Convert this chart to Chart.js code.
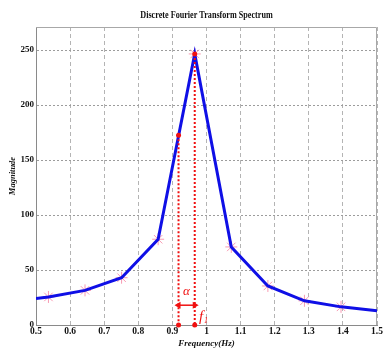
<!DOCTYPE html>
<html>
<head>
<meta charset="utf-8">
<script src="https://cdn.jsdelivr.net/npm/chart.js@4/dist/chart.umd.min.js"></script>
<style>
  html, body { margin: 0; padding: 0; background: #fff; }
  #wrap { width: 384px; height: 350px; }
</style>
</head>
<body>
<div id="wrap"><canvas id="dft"></canvas></div>
<script>
"use strict";

// DFT bins (frequency in Hz, magnitude)
var binFreq = [0.5365, 0.6437, 0.7510, 0.8582, 0.9655, 1.0727, 1.1800, 1.2872, 1.3945];
var binMag = [25.5, 31.5, 43, 78, 246.5, 71, 35.5, 22, 16.5];
// curve ends at the plot edges
var edgeFreq = [0.5, 1.5];
var edgeMag = [24, 13];

// estimated frequency marker and the peak bin
var estFreq = 0.918;
var estMag = 172.5;
var peakFreq = 0.9655;
var peakMag = 246.5;
var arrowMag = 18;

// tick labels
var xTicks = [0.5, 0.6, 0.7, 0.8, 0.9, 1, 1.1, 1.2, 1.3, 1.4, 1.5];
var yTicks = [0, 50, 100, 150, 200, 250];

// text annotations: [label, freq, magnitude]
var notes = [["α", 0.941, 30], ["f", 0.984, 7]];
var titleText = "Discrete Fourier Transform Spectrum";

var serif = "'Liberation Serif', 'Times New Roman', serif";
var red = "#f01010";

function xy(xs, ys) {
    var pts = [];
    for (var i = 0; i < xs.length; i++) {
        pts.push({ x: xs[i], y: ys[i] });
    }
    return pts;
}

var curve = xy([edgeFreq[0]].concat(binFreq, [edgeFreq[1]]), [edgeMag[0]].concat(binMag, [edgeMag[1]]));

// plot box on top/right
var frame = {
    id: "frame",
    beforeDatasetsDraw: function (chart) {
        var a = chart.chartArea, ctx = chart.ctx;
        ctx.save();
        ctx.strokeStyle = "#a8a8a8";
        ctx.lineWidth = 1;
        ctx.beginPath();
        ctx.moveTo(a.left, a.top + 0.5);
        ctx.lineTo(a.right - 0.5, a.top + 0.5);
        ctx.lineTo(a.right - 0.5, a.bottom);
        ctx.stroke();
        ctx.restore();
    }
};

// condensed bold title, alpha and f1 labels
var labels = {
    id: "labels",
    afterDatasetsDraw: function (chart) {
        var ctx = chart.ctx, sx = chart.scales.x, sy = chart.scales.y, a = chart.chartArea;
        ctx.save();
        ctx.fillStyle = "#111";
        ctx.textBaseline = "middle";
        ctx.textAlign = "center";
        ctx.font = "bold 11px " + serif;
        ctx.save();
        ctx.translate((a.left + a.right) / 2, 15);
        ctx.scale(0.74, 1);
        ctx.fillText(titleText, 0, 0);
        ctx.restore();

        ctx.fillStyle = red;
        ctx.font = "italic 13px " + serif;
        ctx.fillText(notes[0][0], sx.getPixelForValue(notes[0][1]), sy.getPixelForValue(notes[0][2]));
        var fx = sx.getPixelForValue(notes[1][1]), fy = sy.getPixelForValue(notes[1][2]);
        ctx.font = "italic 15px " + serif;
        ctx.fillText(notes[1][0], fx, fy);
        ctx.font = "italic 8px " + serif;
        ctx.fillText("1", fx + 5, fy + 4);
        ctx.restore();
    }
};

var ctx = document.getElementById("dft").getContext("2d");
var chart = new Chart(ctx, {
    type: "scatter",
    data: {
        datasets: [
            {
                // dotted drop line from estimate
                data: xy([estFreq, estFreq], [estMag, 0]),
                showLine: true,
                borderColor: red,
                borderWidth: 2,
                borderDash: [2, 2],
                pointRadius: 0,
                order: 1
            },
            {
                // dotted drop line from peak
                data: xy([peakFreq, peakFreq], [peakMag, 0]),
                showLine: true,
                borderColor: red,
                borderWidth: 2,
                borderDash: [2, 2],
                pointRadius: 0,
                order: 1
            },
            {
                // red dots
                data: xy([estFreq, estFreq, peakFreq, peakFreq], [estMag, 0, 0, peakMag]),
                pointStyle: "circle",
                pointRadius: 2.5,
                backgroundColor: red,
                borderColor: red,
                borderWidth: 0,
                clip: false,
                order: 0
            },
            {
                // double arrow between the two lines
                data: xy([estFreq, peakFreq], [arrowMag, arrowMag]),
                showLine: true,
                borderColor: red,
                borderWidth: 1.5,
                pointStyle: "triangle",
                pointRotation: [-90, 90],
                pointRadius: 2.5,
                backgroundColor: red,
                pointBorderColor: red,
                order: 0
            },
            {
                // bin markers
                data: xy(binFreq, binMag),
                pointStyle: "star",
                pointRadius: 6,
                borderWidth: 1,
                borderColor: "#f89ab2",
                backgroundColor: "#f89ab2",
                order: 3
            },
            {
                // spectrum curve
                data: curve,
                showLine: true,
                borderColor: "#0f0fe6",
                borderWidth: 3,
                pointRadius: 0,
                order: 2
            }
        ]
    },
    options: {
        responsive: true,
        maintainAspectRatio: false,
        animation: false,
        layout: { padding: { left: 0, right: 4, top: 27, bottom: 0 } },
        plugins: {
            legend: { display: false },
            tooltip: { enabled: false },
            title: { display: false }
        },
        scales: {
            x: {
                type: "linear",
                min: xTicks[0],
                max: xTicks[xTicks.length - 1],
                afterBuildTicks: function (s) {
                    s.ticks = xTicks.map(function (v) { return { value: v }; });
                },
                afterFit: function (s) {
                    s.height = 25;
                    s.paddingLeft = 0;
                    s.paddingRight = 0;
                },
                ticks: {
                    color: "#111",
                    padding: 1,
                    maxRotation: 0,
                    autoSkip: false,
                    font: { family: serif, size: 9.5, weight: "bold" },
                    callback: function (v) { return String(+v.toFixed(1)); }
                },
                grid: { color: "#b4b4b4", lineWidth: 1, drawTicks: false },
                border: { color: "#8a8a8a", width: 1, dash: [4, 3] },
                title: {
                    display: true,
                    text: "Frequency(Hz)",
                    color: "#111",
                    font: { family: serif, size: 9, weight: "bold", style: "italic" },
                    padding: { top: 0, bottom: 1 }
                }
            },
            y: {
                type: "linear",
                min: 0,
                max: 271,
                afterBuildTicks: function (s) {
                    s.ticks = yTicks.map(function (v) { return { value: v }; });
                },
                afterFit: function (s) {
                    s.width = 36;
                    s.paddingTop = 0;
                    s.paddingBottom = 0;
                },
                ticks: {
                    color: "#111",
                    padding: 2,
                    font: { family: serif, size: 9, weight: "bold" }
                },
                grid: { color: "#9c9c9c", lineWidth: 1, drawTicks: false },
                border: { color: "#8a8a8a", width: 1, dash: [2, 2] },
                title: {
                    display: true,
                    text: "Magnitude",
                    color: "#111",
                    font: { family: serif, size: 8.5, weight: "bold", style: "italic" },
                    padding: { top: 8, bottom: 0 }
                }
            }
        }
    },
    plugins: [frame, labels]
});
</script>
</body>
</html>
